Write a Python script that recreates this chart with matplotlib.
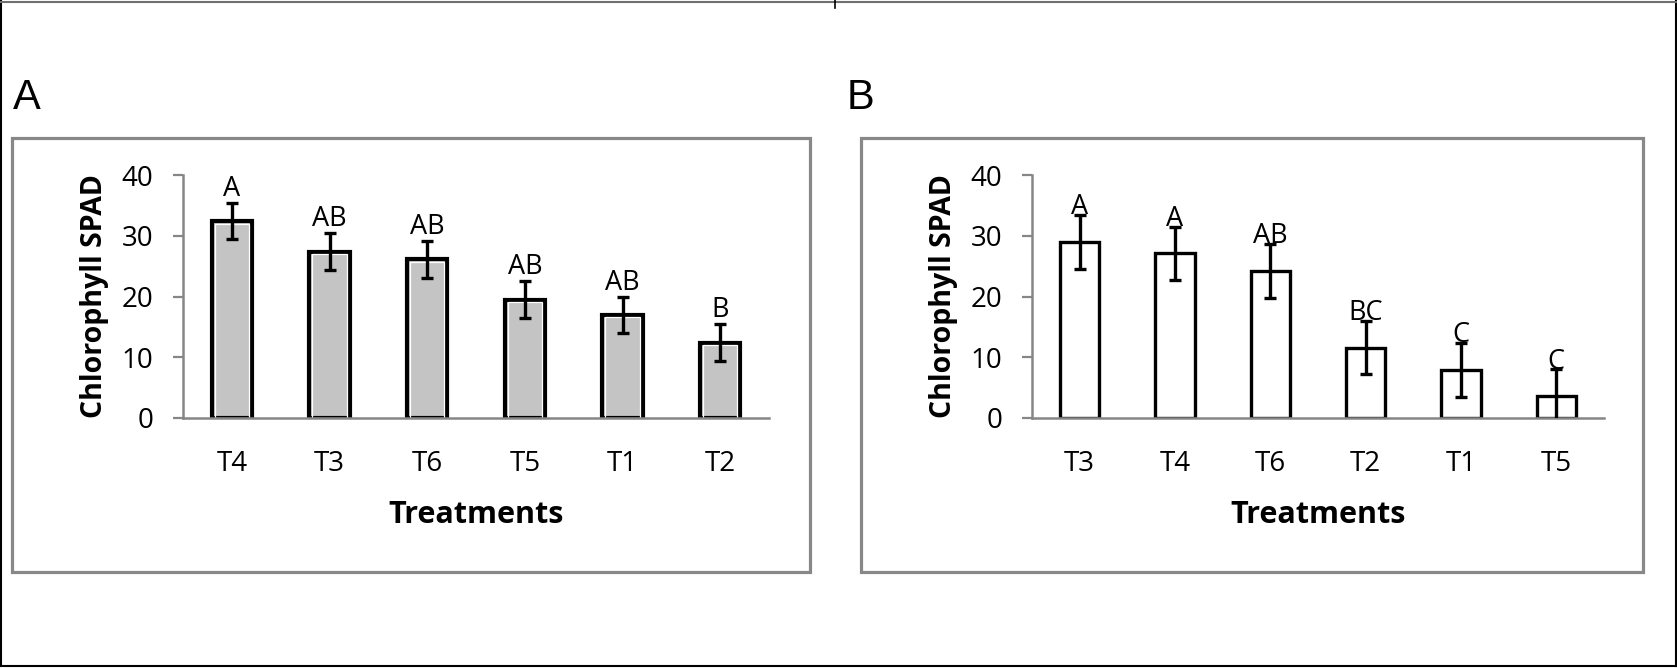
import numpy as np
import matplotlib.pyplot as plt
from matplotlib.patches import Rectangle
from matplotlib.lines import Line2D

# data
cats_a = ['T4', 'T3', 'T6', 'T5', 'T1', 'T2']
mean_a = [32.4, 27.4, 26.1, 19.5, 17.0, 12.4]
err_a = [3.0, 3.0, 3.0, 3.1, 3.0, 3.0]
lett_a = ['A', 'AB', 'AB', 'AB', 'AB', 'B']

cats_b = ['T3', 'T4', 'T6', 'T2', 'T1', 'T5']
mean_b = [29.0, 27.1, 24.2, 11.6, 7.9, 3.7]
err_b = [4.4, 4.4, 4.5, 4.4, 4.4, 4.3]
lett_b = ['A', 'A', 'AB', 'BC', 'C', 'C']

yticks = [0, 10, 20, 30, 40]

W, H = 1677, 668
fig = plt.figure(figsize=(W / 100, H / 100), dpi=100)
plt.rcParams['font.family'] = ['Open Sans', 'DejaVu Sans']

def fx(px):
    return px / W

def fy(py):
    return (H - py) / H

# outer border of the figure
fig.add_artist(Line2D([fx(1), fx(1)], [fy(0), fy(666)], color='black', lw=1.5))
fig.add_artist(Line2D([fx(1), fx(1676)], [fy(666), fy(666)], color='black', lw=1.5))
fig.add_artist(Line2D([fx(1676), fx(1676)], [fy(0), fy(666)], color='black', lw=1.5))
fig.add_artist(Line2D([fx(0), fx(1677)], [fy(2), fy(2)], color='#707070', lw=1.5))
fig.add_artist(Line2D([fx(835), fx(835)], [fy(0), fy(8)], color='black', lw=1.2))

# gray frames around the two panels
for x0, x1 in [(12, 810), (861, 1643)]:
    fig.add_artist(Rectangle((fx(x0), fy(572)), fx(x1 - x0), (572 - 138) / H,
                             transform=fig.transFigure, fill=False,
                             edgecolor='#888888', lw=2.3))

fig.text(fx(13), fy(109), 'A', fontsize=30, family='Liberation Sans', va='baseline')
fig.text(fx(847), fy(109), 'B', fontsize=30, family='Liberation Sans', va='baseline')


def panel(left, width, cats, mean, err, lett, filled, txt_off):
    ax = fig.add_axes([fx(left), fy(418), fx(width), (418 - 175) / H])
    x = np.arange(len(cats))
    if filled:
        ax.bar(x, mean, width=0.41, color='#c4c4c4', edgecolor='black', lw=3.0, zorder=2)
        ax.bar(x, np.array(mean) - 0.45, width=0.35, fill=False, edgecolor='white',
               lw=0.9, zorder=2.1)
    else:
        ax.bar(x, mean, width=0.41, color='white', edgecolor='black', lw=2.4, zorder=2)
    ax.errorbar(x, mean, yerr=err, fmt='none', ecolor='black', elinewidth=2.4,
                capsize=4.3, capthick=2.4, zorder=3)
    for xi, m, e, t in zip(x, mean, err, lett):
        ax.text(xi, m + e + txt_off, t, ha='center', va='center', fontsize=19.5, zorder=4)
    ax.set_xlim(-0.5, len(cats) - 0.5)
    ax.set_ylim(0, 40)
    ax.set_yticks(yticks)
    ax.set_xticks(x)
    ax.set_xticklabels(cats)
    for s in ['top', 'right']:
        ax.spines[s].set_visible(False)
    for s in ['left', 'bottom']:
        ax.spines[s].set_color('#868686')
        ax.spines[s].set_linewidth(1.8)
    ax.tick_params(axis='y', direction='out', length=7.2, width=1.6, color='#868686',
                   labelsize=20, pad=14)
    ax.tick_params(axis='x', length=0, labelsize=20, pad=23)
    ax.set_xlabel('Treatments', fontsize=22, fontweight='bold', labelpad=16)
    ax.set_ylabel('Chlorophyll SPAD', fontsize=20.5, fontweight='bold', labelpad=9)
    ax.patch.set_alpha(0)
    return ax


panel(183, 586, cats_a, mean_a, err_a, lett_a, True, 2.3)
panel(1032, 572, cats_b, mean_b, err_b, lett_b, False, 1.3)

fig.savefig('out.png', dpi=100)
